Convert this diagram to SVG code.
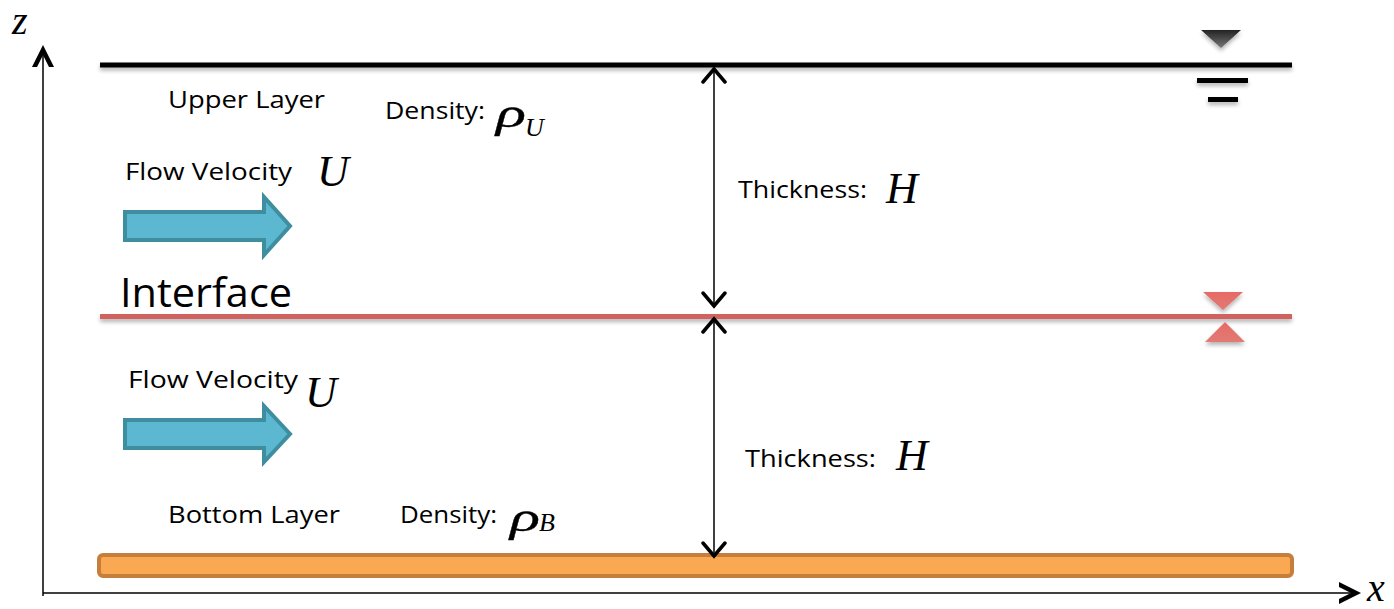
<svg xmlns="http://www.w3.org/2000/svg" width="1394" height="609" viewBox="0 0 1394 609">
<style>
.sans{font-family:"Open Sans","Liberation Sans",sans-serif;fill:#000}
.math{font-family:"Liberation Serif","Times New Roman",serif;font-style:italic;fill:#000}
.rho{font-family:"Liberation Serif","Times New Roman",serif;font-style:italic;fill:#000;stroke:#000;stroke-width:0.3}
.flow{fill:#5bb8d0;stroke:#3f8ea0;stroke-width:4;stroke-linejoin:miter}
.dim{stroke:#000;stroke-width:1.5;fill:none}
.axis{stroke:#000;stroke-width:1.5;fill:none}
</style>
<defs>
<marker id="chev" markerUnits="userSpaceOnUse" markerWidth="30" markerHeight="30" viewBox="-15 -15 30 30" refX="0" refY="0" orient="auto-start-reverse">
<path d="M-13,-11 L0,0 L-13,11" fill="none" stroke="#000" stroke-width="3.5" stroke-linecap="round" stroke-linejoin="miter"/>
</marker>
<marker id="chevBig" markerUnits="userSpaceOnUse" markerWidth="34" markerHeight="34" viewBox="-17 -17 34 34" refX="0" refY="0" orient="auto">
<path d="M-20,-10 L0,0 L-20,10" fill="none" stroke="#000" stroke-width="4.5" stroke-linecap="round" stroke-linejoin="miter"/>
</marker>
<linearGradient id="gBlack" x1="0" y1="0" x2="0" y2="1">
<stop offset="0" stop-color="#222"/>
<stop offset="1" stop-color="#777"/>
</linearGradient>
<linearGradient id="gRed" x1="0" y1="0" x2="0" y2="1">
<stop offset="0" stop-color="#e66a66"/>
<stop offset="1" stop-color="#e27a74"/>
</linearGradient>
<filter id="sh" x="-5%" y="-50%" width="110%" height="300%">
<feGaussianBlur in="SourceAlpha" stdDeviation="2"/>
<feOffset dy="3"/>
<feComponentTransfer><feFuncA type="linear" slope="0.3"/></feComponentTransfer>
<feMerge><feMergeNode/><feMergeNode in="SourceGraphic"/></feMerge>
</filter>
</defs>

<g id="axes">
<line class="axis" x1="43" y1="596" x2="43" y2="50" marker-end="url(#chevBig)"/>
<line class="axis" x1="43" y1="593" x2="1356" y2="593" marker-end="url(#chevBig)"/>
<text class="math" x="12" y="34" font-size="40">z</text>
<text class="math" x="1367" y="601" font-size="40">x</text>
</g>

<g id="surface" filter="url(#sh)">
<line x1="100" y1="65" x2="1292" y2="65" stroke="#000" stroke-width="5"/>
<polygon points="1201,30 1241,30 1221,48" fill="url(#gBlack)"/>
<line x1="1197" y1="80.5" x2="1248" y2="80.5" stroke="#000" stroke-width="5"/>
<line x1="1208" y1="99.5" x2="1238" y2="99.5" stroke="#000" stroke-width="5"/>
</g>

<g id="interface-line" filter="url(#sh)">
<line x1="100" y1="316.5" x2="1292" y2="316.5" stroke="#d0635e" stroke-width="5"/>
<polygon points="1203,292 1243,292 1223,310" fill="url(#gRed)"/>
<polygon points="1205,342 1245,342 1225,322" fill="url(#gRed)"/>
</g>

<g id="bottom">
<rect x="99" y="555" width="1193" height="21" rx="4" ry="4" fill="#fba853" stroke="#c57e3c" stroke-width="4"/>
</g>

<g id="connectors">
<line class="dim" x1="714" y1="69" x2="714" y2="306" marker-start="url(#chev)" marker-end="url(#chev)"/>
<line class="dim" x1="714" y1="319" x2="714" y2="556" marker-start="url(#chev)" marker-end="url(#chev)"/>
</g>

<g id="upper-layer">
<text class="sans" x="168" y="108" font-size="24" textLength="157" lengthAdjust="spacingAndGlyphs">Upper Layer</text>
<text class="sans" x="385" y="119" font-size="24" textLength="100" lengthAdjust="spacingAndGlyphs">Density:</text>
<text class="rho" x="496" y="127" font-size="42" textLength="30" lengthAdjust="spacingAndGlyphs">ρ</text>
<text class="math" x="525" y="136" font-size="26">U</text>
<text class="sans" x="125" y="180" font-size="24" textLength="167" lengthAdjust="spacingAndGlyphs">Flow Velocity</text>
<text class="math" x="317" y="186" font-size="44">U</text>
<polygon class="flow" points="125,212 264,212 264,197 290,226 264,255 264,240 125,240"/>
<text class="sans" x="738" y="198" font-size="24" textLength="129" lengthAdjust="spacingAndGlyphs">Thickness:</text>
<text class="math" x="886" y="203" font-size="44">H</text>
</g>

<g id="interface">
<text class="sans" x="120" y="307" font-size="40" textLength="172" lengthAdjust="spacingAndGlyphs">Interface</text>
</g>

<g id="bottom-layer">
<text class="sans" x="128" y="388" font-size="24" textLength="170" lengthAdjust="spacingAndGlyphs">Flow Velocity</text>
<text class="math" x="305" y="407" font-size="44">U</text>
<polygon class="flow" points="125,420 264,420 264,406 290,434 264,462 264,448 125,448"/>
<text class="sans" x="745" y="467" font-size="24" textLength="131" lengthAdjust="spacingAndGlyphs">Thickness:</text>
<text class="math" x="896" y="470" font-size="44">H</text>
<text class="sans" x="168" y="523" font-size="24" textLength="172" lengthAdjust="spacingAndGlyphs">Bottom Layer</text>
<text class="sans" x="400" y="523" font-size="24" textLength="97" lengthAdjust="spacingAndGlyphs">Density:</text>
<text class="rho" x="510" y="531" font-size="42" textLength="30" lengthAdjust="spacingAndGlyphs">ρ</text>
<text class="math" x="539" y="531" font-size="26">B</text>
</g>
</svg>
